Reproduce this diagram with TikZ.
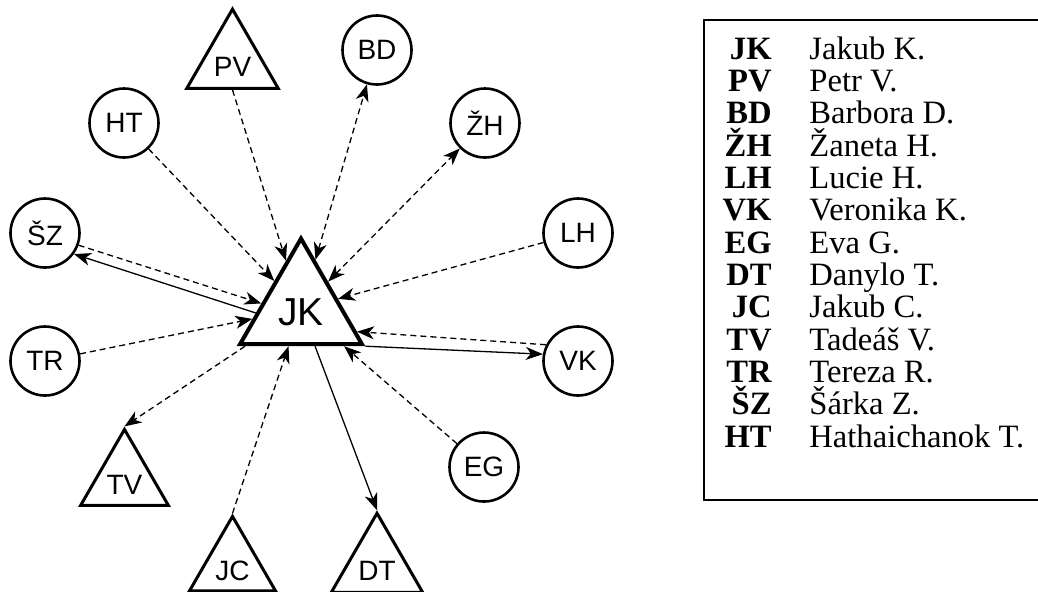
\documentclass[tikz,border=0pt]{standalone}
\usepackage{fontspec}
\setmainfont{Liberation Serif}
\setsansfont{Liberation Sans}
\usetikzlibrary{shapes.geometric,arrows.meta}
\tikzset{
girl/.style={circle, draw, line width=1.3pt, minimum size=34.5pt, inner sep=0pt, font=\sffamily\fontsize{14}{14}\selectfont},
boy/.style={regular polygon, regular polygon sides=3, draw, line width=1.5pt, minimum size=49.65pt, inner sep=0pt, text height=14pt, text depth=0pt, font=\sffamily\fontsize{14}{14}\selectfont},
link/.style={line width=0.65pt},
dlink/.style={link, dash pattern=on 3pt off 2pt},
legend/.style={inner sep=0pt, font=\rmfamily\fontsize{16.3}{18}\selectfont}
}

\begin{document}
\begin{tikzpicture}[x=0.5pt, y=-0.5pt, >={Stealth[length=8.5pt,width=6.5pt,inset=2.5pt]}]
\useasboundingbox (0,0) rectangle (1038,591);
\node[boy, minimum size=70.4pt, line width=2pt, text height=16.5pt, font=\sffamily\fontsize{19.5}{19.5}\selectfont] (JK) at (301,309) {JK};
\node[boy] (PV) at (232.5,62) {PV};
\node[boy] (TV) at (124.5,480) {TV};
\node[boy] (JC) at (232.5,566) {JC};
\node[boy] (DT) at (377,566) {DT};
\node[girl] (BD) at (377,50) {BD};
\node[girl] (ZH) at (485,123) {ŽH};
\node[girl] (HT) at (124,123) {HT};
\node[girl] (SZ) at (45,233) {ŠZ};
\node[girl] (TR) at (45,361) {TR};
\node[girl] (LH) at (578,233) {LH};
\node[girl] (VK) at (578,361) {VK};
\node[girl] (EG) at (484,467) {EG};

\draw[dlink,->] (HT) -- (JK);
\draw[dlink,->] (PV.south) -- (JK);
\draw[dlink,<->] (JK) -- (BD);
\draw[dlink,<->] (JK) -- (ZH);
\draw[dlink,->] (LH) -- (JK);
\draw[dlink,->] (VK.153) -- (JK.-22);
\draw[link,->] (JK.corner 3) -- (VK.169);
\draw[dlink,->] (EG) -- (JK);
\draw[link,->] (JK) -- (DT.north);
\draw[dlink,->] (JC.north) -- (JK);
\draw[dlink,->] (JK) -- (TV.north);
\draw[dlink,->] (TR) -- (JK);
\draw[dlink,->] (SZ.-20) -- (JK.172);
\draw[link,->] (JK.185) -- (SZ.-36);

\draw[line width=0.6pt] (1045,20) -- (704,20) -- (704,500) -- (1045,500);
\foreach \key/\abbr/\name [count=\i from 0] in {JK/JK/Jakub K., PV/PV/Petr V., BD/BD/Barbora D., ZH/ŽH/Žaneta H., LH/LH/Lucie H., VK/VK/Veronika K., EG/EG/Eva G., DT/DT/Danylo T., JC/JC/Jakub C., TV/TV/Tadeáš V., TR/TR/Tereza R., SZ/ŠZ/Šárka Z., HT/HT/Hathaichanok T.}
{
  \node[legend, anchor=base east, font=\rmfamily\bfseries\fontsize{16.3}{18}\selectfont] (key-\key) at (772,59+32.35*\i) {\abbr};
  \node[legend, anchor=base west] (name-\key) at (809,59+32.35*\i) {\name};
}
\end{tikzpicture}
\end{document}
